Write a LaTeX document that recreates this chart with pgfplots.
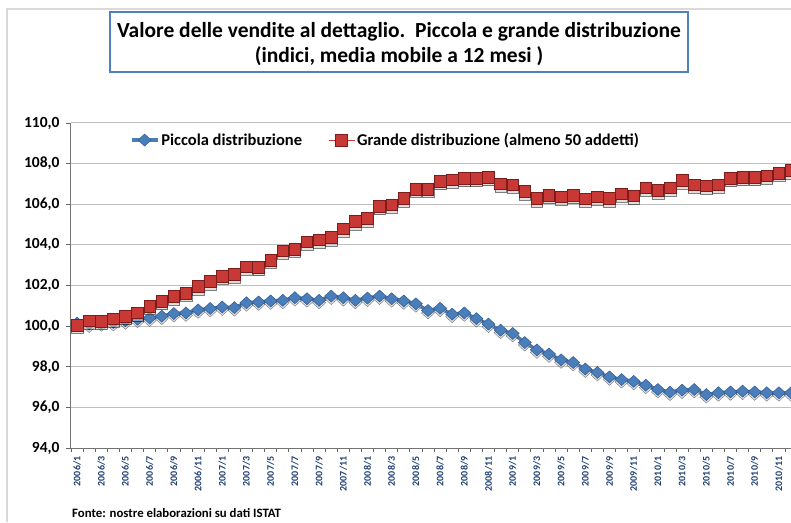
\documentclass[border=0pt]{standalone}
\usepackage{fontspec}
\setmainfont{Carlito}
\usepackage{pgfplots}
\usepackage{pgfplotstable}
\usetikzlibrary{calc}
\pgfplotsset{compat=1.18}
\definecolor{pblue}{RGB}{74,126,187}
\definecolor{pbluedark}{RGB}{50,92,145}
\definecolor{gred}{RGB}{200,56,52}
\definecolor{gredd}{RGB}{125,28,26}
\definecolor{labblue}{RGB}{31,63,115}
\definecolor{boxblue}{RGB}{79,129,189}

\pgfplotstableread{
x p g
0 100.15 100.05
1 100.10 100.26
2 100.16 100.24
3 100.18 100.36
4 100.26 100.49
5 100.34 100.65
6 100.40 100.98
7 100.49 101.22
8 100.62 101.46
9 100.65 101.63
10 100.80 101.95
11 100.87 102.20
12 100.94 102.46
13 100.91 102.54
14 101.15 102.93
15 101.19 102.90
16 101.24 103.25
17 101.27 103.70
18 101.40 103.79
19 101.35 104.16
20 101.27 104.24
21 101.48 104.36
22 101.40 104.80
23 101.27 105.15
24 101.38 105.30
25 101.48 105.90
26 101.35 105.98
27 101.24 106.28
28 101.10 106.75
29 100.77 106.75
30 100.88 107.13
31 100.59 107.20
32 100.65 107.28
33 100.37 107.28
34 100.10 107.33
35 99.80 107.00
36 99.64 106.96
37 99.19 106.63
38 98.83 106.28
39 98.63 106.44
40 98.34 106.36
41 98.21 106.44
42 97.89 106.26
43 97.72 106.36
44 97.50 106.28
45 97.37 106.52
46 97.28 106.42
47 97.09 106.80
48 96.88 106.68
49 96.75 106.80
50 96.85 107.17
51 96.88 106.96
52 96.63 106.91
53 96.72 106.96
54 96.76 107.28
55 96.80 107.33
56 96.76 107.33
57 96.72 107.41
58 96.72 107.53
59 96.72 107.66
}\data

\begin{document}
\begin{tikzpicture}
\begin{axis}[
  name=main,
  scale only axis, width=720pt, height=325pt,
  xmin=-0.5, xmax=59, ymin=94, ymax=110,
  axis x line*=bottom, axis y line*=left,
  axis line style={-, draw=gray!90!black, line width=1pt},
  ymajorgrids, major grid style={gray!50, line width=1pt},
  ytick={94,96,...,110},
  xtick={0,2,...,58},
  xticklabels={2006/1,2006/3,2006/5,2006/7,2006/9,2006/11,2007/1,2007/3,2007/5,2007/7,2007/9,2007/11,2008/1,2008/3,2008/5,2008/7,2008/9,2008/11,2009/1,2009/3,2009/5,2009/7,2009/9,2009/11,2010/1,2010/3,2010/5,2010/7,2010/9,2010/11},
  minor xtick={-0.5,0.5,...,58.5},
  tick align=outside, major tick length=5pt, minor tick length=4pt,
  tick style={gray!80!black, line width=0.8pt},
  major x tick style={draw=none},
  x tick label style={rotate=90, anchor=east, font=\fontsize{10}{10}\bfseries, text=labblue},
  y tick label style={xshift=-3pt, font=\fontsize{15.5}{15.5}\bfseries, /pgf/number format/.cd, fixed, fixed zerofill, precision=1, use comma, assume math mode=true},
  legend columns=2,
  legend style={at={(axis cs:4.1,109.16)}, anchor=west, draw=none, fill=none, font=\fontsize{16.5}{17}\bfseries, /tikz/every even column/.append style={column sep=24pt}},
  legend cell align=left,
  legend image code/.code={\draw[#1, mark repeat=2, mark phase=2] plot coordinates {(0pt,0pt) (13pt,0pt) (26pt,0pt)};},
]
\addplot[forget plot, draw=none, mark=diamond*, mark size=6pt, mark options={xscale=1.45, yshift=-2.5pt, fill=black!25, draw=none, opacity=0.5}] table[x=x,y=p]{\data};
\addplot[pblue, line width=3.5pt, mark=diamond*, mark size=6pt, mark options={xscale=1.45, fill=pblue, draw=pbluedark, line width=0.5pt}] table[x=x,y=p]{\data};
\addlegendentry{Piccola distribuzione}
\addplot[forget plot, draw=none, mark=square*, mark size=5.8pt, mark options={yshift=-2.5pt, fill=black!25, draw=none, opacity=0.5}] table[x=x,y=g]{\data};
\addplot[gred, line width=1pt, mark=square*, mark size=5.8pt, mark options={fill=gred, draw=gredd, line width=0.6pt}] table[x=x,y=g]{\data};
\addlegendentry{Grande distribuzione (almeno 50 addetti)}
\end{axis}
\coordinate (O) at ($(main.south west)+(-71pt,-74pt)$);
\begin{scope}[shift={(O)}, x=1pt, y=1pt]
\draw[gray!30, line width=1.5pt] (7,0) -- (7,513) -- (791,513);
\draw[boxblue, line width=1.5pt] (110,450) rectangle (688,510);
\node[font=\fontsize{21.5}{22}\bfseries, inner sep=0] at (399,490) {Valore delle vendite al dettaglio.\ \ Piccola e grande distribuzione};
\node[font=\fontsize{21.5}{22}\bfseries, inner sep=0] at (399,466) {(indici, media mobile a 12 mesi )};
\node[anchor=base west, font=\fontsize{12.8}{13}\bfseries, inner sep=0] at (72,4.5) {Fonte: nostre elaborazioni su dati ISTAT};
\end{scope}
\pgfresetboundingbox
\path[use as bounding box] (O) rectangle ($(O)+(791pt,522pt)$);
\end{tikzpicture}
\end{document}
